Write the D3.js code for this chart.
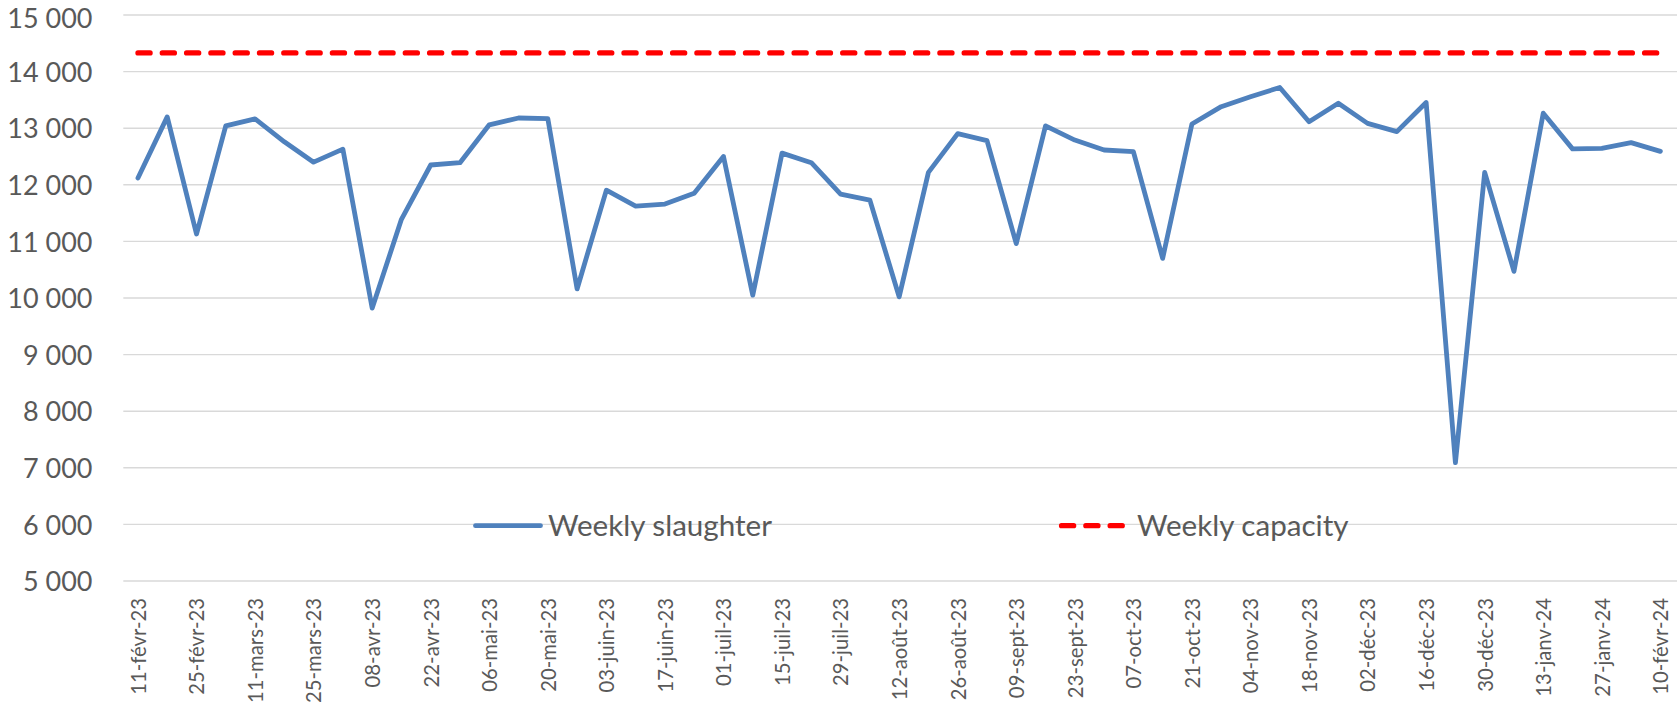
<!DOCTYPE html>
<html>
<head>
<meta charset="utf-8">
<script src="https://cdn.jsdelivr.net/npm/d3@7/dist/d3.min.js"></script>
<style>
  html, body { margin: 0; padding: 0; background: #ffffff; }
  svg { display: block; }
  text { font-family: Lato, "Noto Sans", sans-serif; fill: #595959; }
</style>
</head>
<body>
<svg id="chart" width="1677" height="706"></svg>
<script>
// Week-ending dates (one per week)
const weeks = [
  "11-févr-23","18-févr-23","25-févr-23","04-mars-23","11-mars-23","18-mars-23","25-mars-23",
  "01-avr-23","08-avr-23","15-avr-23","22-avr-23","29-avr-23","06-mai-23","13-mai-23",
  "20-mai-23","27-mai-23","03-juin-23","10-juin-23","17-juin-23","24-juin-23","01-juil-23",
  "08-juil-23","15-juil-23","22-juil-23","29-juil-23","05-août-23","12-août-23","19-août-23",
  "26-août-23","02-sept-23","09-sept-23","16-sept-23","23-sept-23","30-sept-23","07-oct-23",
  "14-oct-23","21-oct-23","28-oct-23","04-nov-23","11-nov-23","18-nov-23","25-nov-23",
  "02-déc-23","09-déc-23","16-déc-23","23-déc-23","30-déc-23","06-janv-24","13-janv-24",
  "20-janv-24","27-janv-24","03-févr-24","10-févr-24"
];

// Weekly slaughter (head)
const slaughter = [
  12120, 13200, 11130, 13040, 13165, 12760, 12400, 12630, 9820, 11390, 12350,
  12390, 13060, 13180, 13170, 10160, 11905, 11625, 11660, 11850, 12500, 10050,
  12560, 12390, 11835, 11730, 10020, 12220, 12905, 12780, 10960, 13040, 12790,
  12615, 12585, 10700, 13075, 13380, 13555, 13720, 13115, 13440, 13085, 12940,
  13455, 7090, 12220, 10470, 13265, 12635, 12645, 12745, 12590
];

// Weekly capacity (head)
const capacity = 14330;

// Value axis ticks
const yTicks = [5000, 6000, 7000, 8000, 9000, 10000, 11000, 12000, 13000, 14000, 15000];

// Every second week gets a label
const labelledWeeks = weeks.filter((d, i) => i % 2 === 0);

const seriesNames = ["Weekly slaughter", "Weekly capacity"];

const svg = d3.select("#chart");

const plot = { left: 123.3, right: 1675, top: 15, bottom: 581 };

const x = d3.scalePoint()
  .domain(weeks)
  .range([plot.left, plot.right])
  .padding(0.5);

const y = d3.scaleLinear()
  .domain([5000, 15000])
  .range([plot.bottom, plot.top]);

const fmt = v => d3.format(",")(v).replace(/,/g, " ");

// Horizontal gridlines
svg.append("g")
  .selectAll("line")
  .data(yTicks)
  .join("line")
  .attr("x1", plot.left)
  .attr("x2", 1677)
  .attr("y1", d => y(d))
  .attr("y2", d => y(d))
  .attr("stroke", "#d9d9d9")
  .attr("stroke-width", 1.4);

// Value axis labels (the top one is nudged so it stays inside the page)
const yAxis = d3.axisLeft(y).tickValues(yTicks).tickFormat(fmt).tickSize(0).tickPadding(0);
const yg = svg.append("g").attr("transform", "translate(92.5,0)").call(yAxis);
yg.select(".domain").remove();
yg.selectAll("text")
  .attr("font-size", 27)
  .attr("font-family", "Lato, 'Noto Sans', sans-serif")
  .attr("fill", "#595959")
  .attr("dy", d => d === 15000 ? "0.45em" : "0.36em");

// Category axis labels, rotated
const xAxis = d3.axisBottom(x).tickValues(labelledWeeks).tickSize(0).tickPadding(0);
const xg = svg.append("g").attr("transform", `translate(0,${plot.bottom})`).call(xAxis);
xg.select(".domain").remove();
xg.selectAll("text")
  .attr("font-size", 20.3)
  .attr("font-family", "Lato, 'Noto Sans', sans-serif")
  .attr("fill", "#595959")
  .attr("text-anchor", "end")
  .attr("transform", "translate(0,17) rotate(-90)")
  .attr("x", 0)
  .attr("y", 0)
  .attr("dy", "0.36em");

// Capacity line
svg.append("line")
  .attr("x1", x(weeks[0]))
  .attr("x2", x(weeks[weeks.length - 1]))
  .attr("y1", y(capacity))
  .attr("y2", y(capacity))
  .attr("stroke", "#ff0000")
  .attr("stroke-width", 5.2)
  .attr("stroke-linecap", "round")
  .attr("stroke-dasharray", "12.2,12.1");

// Slaughter line
const line = d3.line()
  .x((d, i) => x(weeks[i]))
  .y(d => y(d));

svg.append("path")
  .datum(slaughter)
  .attr("d", line)
  .attr("fill", "none")
  .attr("stroke", "#4f81bd")
  .attr("stroke-width", 4.8)
  .attr("stroke-linejoin", "round")
  .attr("stroke-linecap", "round");

// Legend
const legendY = 525.7;
const legend = svg.append("g");

legend.append("line")
  .attr("x1", 475.5).attr("x2", 540.5)
  .attr("y1", legendY).attr("y2", legendY)
  .attr("stroke", "#4f81bd")
  .attr("stroke-width", 4.8)
  .attr("stroke-linecap", "round");

legend.append("text")
  .attr("x", 548)
  .attr("y", legendY)
  .attr("dy", "0.36em")
  .attr("font-size", 29.6)
  .text(seriesNames[0]);

legend.append("line")
  .attr("x1", 1061.5).attr("x2", 1123)
  .attr("y1", legendY).attr("y2", legendY)
  .attr("stroke", "#ff0000")
  .attr("stroke-width", 5.2)
  .attr("stroke-linecap", "round")
  .attr("stroke-dasharray", "12.2,12.1");

legend.append("text")
  .attr("x", 1137)
  .attr("y", legendY)
  .attr("dy", "0.36em")
  .attr("font-size", 29.6)
  .text(seriesNames[1]);
</script>
</body>
</html>
